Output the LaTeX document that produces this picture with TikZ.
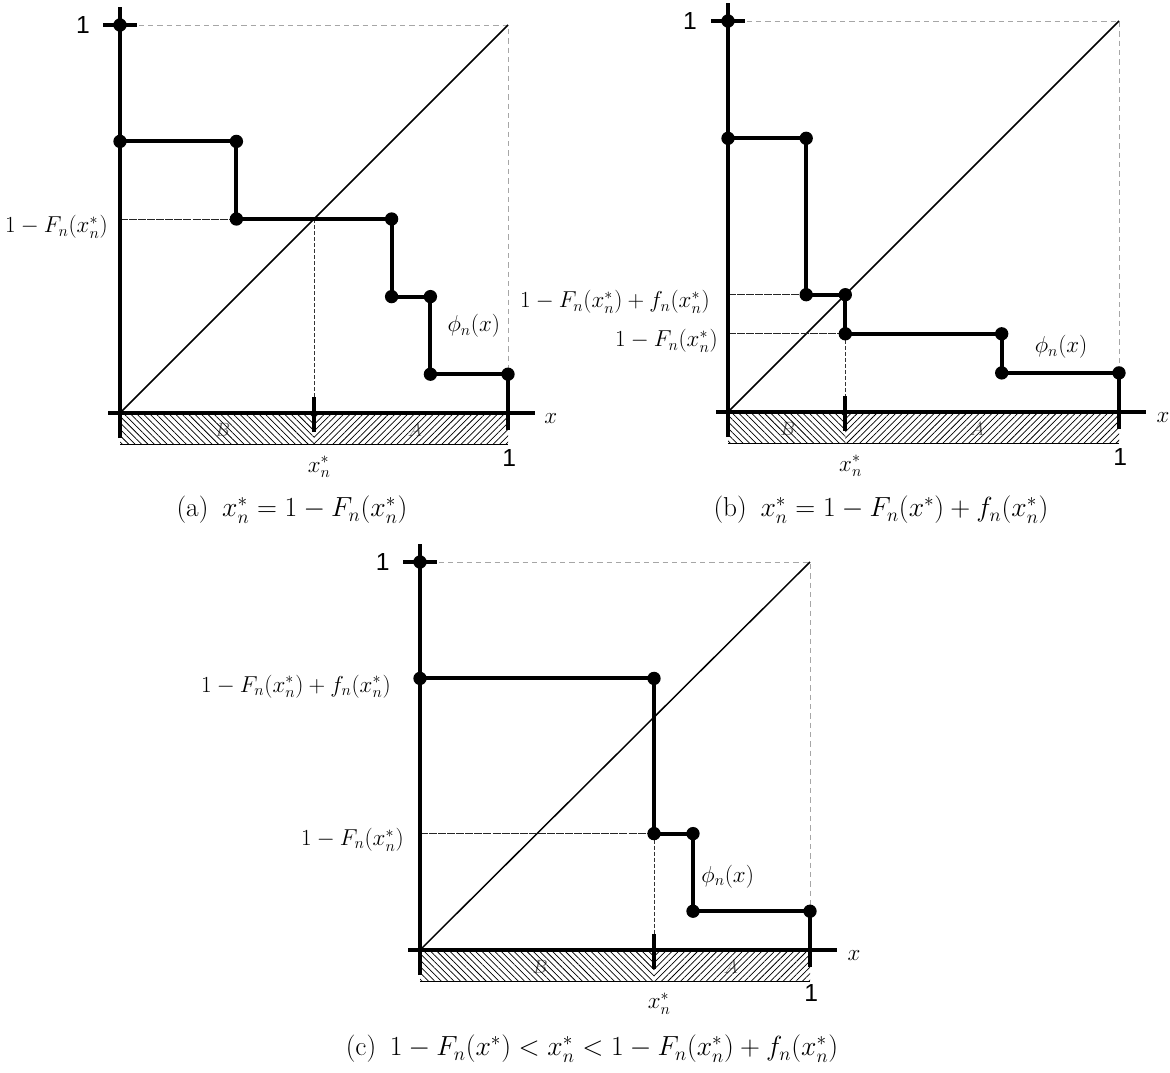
\documentclass[tikz,border=0pt]{standalone}
\usepackage{fontspec}
\newfontfamily\hvfont{Liberation Sans}
\usetikzlibrary{patterns.meta}
\begin{document}
\begin{tikzpicture}[x=0.75pt,y=-0.75pt,
  axisline/.style={line width=3pt},
  stepline/.style={line width=3pt, line join=miter},
  diagline/.style={line width=1.1pt},
  guideline/.style={black!35, line width=0.75pt, dash pattern=on 4pt off 3pt},
  dropline/.style={black!80, line width=0.7pt, dash pattern=on 3pt off 1.5pt},
  levelline/.style={black!85, line width=0.6pt, dash pattern=on 6pt off 0.8pt},
  stepdot/.style={circle, fill=black, inner sep=0pt, minimum size=10pt},
  labtext/.style={font=\fontsize{17}{20}\selectfont, inner sep=0pt},
  onetext/.style={font=\hvfont\fontsize{18.5}{21}\selectfont, inner sep=0pt},
  captext/.style={font=\fontsize{20.5}{24}\selectfont, inner sep=0pt},
  hatchB/.style={pattern={Lines[angle=-45,distance=3.4pt,line width=0.55pt]}},
  hatchA/.style={pattern={Lines[angle=45,distance=3.4pt,line width=0.55pt]}},
  regiontext/.style={text=black!60, font=\fontsize{15}{17}\selectfont, inner sep=0pt},
  hatchedge/.style={line width=0.5pt}
]
\useasboundingbox (0,0) rectangle (1170,1072);

% ---------------- panel (a) ----------------
\begin{scope}[shift={(90pt,-309.75pt)}, x=291pt, y=291pt]
  \draw[guideline] (0,1) -- (1,1) -- (1,0.1);
  \draw[diagline] (0,0) -- (1,1);
  \draw[levelline] (0,0.5) -- (0.3,0.5);
  \draw[dropline] (0.5,0.5) -- (0.5,0);
  \node[regiontext] (aB) at ([yshift=-12.75pt]0.265,0) {$B$};
  \node[regiontext] (aA) at ([yshift=-12.75pt]0.76,0) {$A$};
  \fill[hatchB] (0,0) rectangle ([yshift=-23.25pt]0.5,0);
  \fill[hatchA] (0.5,0) rectangle ([yshift=-23.25pt]1,0);
  \draw[hatchedge] ([yshift=-23.25pt]0,0) -- ([yshift=-23.25pt]1,0);
  \draw[axisline] ([yshift=-18.75pt]0,0) -- ([yshift=13.5pt]0,1);
  \draw[axisline] ([xshift=-9pt]0,0) -- ([xshift=20pt]1,0);
  \draw[axisline] ([xshift=-12.5pt]0,1) -- ([xshift=12.5pt]0,1);
  \draw[axisline] ([yshift=12pt]0.5,0) -- ([yshift=-14pt]0.5,0);
  \draw[stepline] (0,0.7) -| (0.3,0.5) -| (0.7,0.3) -| (0.8,0.1) -| ([yshift=-12.75pt]1,0);
  \foreach \p in {(0,1),(0,0.7),(0.3,0.7),(0.3,0.5),(0.7,0.5),(0.7,0.3),(0.8,0.3),(0.8,0.1),(1,0.1)}
    \node[stepdot] at \p {};
  \node[labtext, anchor=east] (aF) at ([xshift=-9pt,yshift=-6pt]0,0.5) {$1-F_n(x_n^*)$};
  \node[labtext] (axs) at ([xshift=4pt,yshift=-40.5pt]0.5,0) {$x_n^*$};
  \node[onetext] (a1t) at ([xshift=-27.75pt]0,1) {1};
  \node[onetext] (a1b) at ([xshift=1pt,yshift=-33.75pt]1,0) {1};
  \node[labtext] (ax) at ([xshift=32pt,yshift=-4.5pt]1,0) {$x$};
  \node[labtext] (aphi) at (0.912,0.224) {$\phi_n(x)$};
\end{scope}

% ---------------- panel (b) ----------------
\begin{scope}[shift={(546pt,-309pt)}, x=293.25pt, y=293.25pt]
  \draw[guideline] (0,1) -- (1,1) -- (1,0.1);
  \draw[diagline] (0,0) -- (1,1);
  \draw[levelline] (0,0.3) -- (0.2,0.3);
  \draw[levelline] (0,0.2) -- (0.3,0.2);
  \draw[dropline] (0.3,0.2) -- (0.3,0);
  \node[regiontext] (bB) at ([yshift=-12.75pt]0.153,0) {$B$};
  \node[regiontext] (bA) at ([yshift=-12.75pt]0.637,0) {$A$};
  \fill[hatchB] (0,0) rectangle ([yshift=-23.25pt]0.3,0);
  \fill[hatchA] (0.3,0) rectangle ([yshift=-23.25pt]1,0);
  \draw[hatchedge] ([yshift=-23.25pt]0,0) -- ([yshift=-23.25pt]1,0);
  \draw[axisline] ([yshift=-18.75pt]0,0) -- ([yshift=13.5pt]0,1);
  \draw[axisline] ([xshift=-9pt]0,0) -- ([xshift=20pt]1,0);
  \draw[axisline] ([xshift=-12.5pt]0,1) -- ([xshift=12.5pt]0,1);
  \draw[axisline] ([yshift=12pt]0.3,0) -- ([yshift=-14pt]0.3,0);
  \draw[stepline] (0,0.7) -| (0.2,0.3) -| (0.3,0.2) -| (0.7,0.1) -| ([yshift=-12.75pt]1,0);
  \foreach \p in {(0,1),(0,0.7),(0.2,0.7),(0.2,0.3),(0.3,0.3),(0.3,0.2),(0.7,0.2),(0.7,0.1),(1,0.1)}
    \node[stepdot] at \p {};
  \node[labtext, anchor=east] (bFf) at ([xshift=-13.5pt,yshift=-5.5pt]0,0.3) {$1-F_n(x_n^*)+f_n(x_n^*)$};
  \node[labtext, anchor=east] (bF) at ([xshift=-7.5pt,yshift=-5.5pt]0,0.2) {$1-F_n(x_n^*)$};
  \node[labtext] (bxs) at ([xshift=4pt,yshift=-40.5pt]0.3,0) {$x_n^*$};
  \node[onetext] (b1t) at ([xshift=-28.5pt]0,1) {1};
  \node[onetext] (b1b) at ([xshift=1pt,yshift=-33.75pt]1,0) {1};
  \node[labtext] (bx) at ([xshift=33pt,yshift=-4.5pt]1,0) {$x$};
  \node[labtext] (bphi) at (0.852,0.166) {$\phi_n(x)$};
\end{scope}

% ---------------- panel (c) ----------------
\begin{scope}[shift={(315pt,-712.5pt)}, x=292.5pt, y=291pt]
  \draw[guideline] (0,1) -- (1,1) -- (1,0.1);
  \draw[diagline] (0,0) -- (1,1);
  \draw[levelline] (0,0.3) -- (0.6,0.3);
  \draw[dropline] (0.6,0.3) -- (0.6,0);
  \node[regiontext] (cB) at ([yshift=-13pt]0.308,0) {$B$};
  \node[regiontext] (cA) at ([yshift=-13pt]0.797,0) {$A$};
  \fill[hatchB] (0,0) rectangle ([yshift=-23.25pt]0.6,0);
  \fill[hatchA] (0.6,0) rectangle ([yshift=-23.25pt]1,0);
  \draw[hatchedge] ([yshift=-23.25pt]0,0) -- ([yshift=-23.25pt]1,0);
  \draw[axisline] ([yshift=-18.75pt]0,0) -- ([yshift=13.5pt]0,1);
  \draw[axisline] ([xshift=-9pt]0,0) -- ([xshift=20pt]1,0);
  \draw[axisline] ([xshift=-12.5pt]0,1) -- ([xshift=12.5pt]0,1);
  \draw[axisline] ([yshift=12pt]0.6,0) -- ([yshift=-14pt]0.6,0);
  \draw[stepline] (0,0.7) -| (0.6,0.3) -| (0.7,0.1) -| ([yshift=-12.75pt]1,0);
  \foreach \p in {(0,1),(0,0.7),(0.6,0.7),(0.6,0.3),(0.7,0.3),(0.7,0.1),(1,0.1)}
    \node[stepdot] at \p {};
  \node[labtext, anchor=east] (cFf) at ([xshift=-21.75pt,yshift=-6pt]0,0.7) {$1-F_n(x_n^*)+f_n(x_n^*)$};
  \node[labtext, anchor=east] (cF) at ([xshift=-12pt,yshift=-4.5pt]0,0.3) {$1-F_n(x_n^*)$};
  \node[labtext] (cxs) at ([xshift=4pt,yshift=-40pt]0.6,0) {$x_n^*$};
  \node[onetext] (c1t) at ([xshift=-28pt]0,1) {1};
  \node[onetext] (c1b) at ([xshift=1pt,yshift=-32.5pt]1,0) {1};
  \node[labtext] (cx) at ([xshift=33pt,yshift=-4pt]1,0) {$x$};
  \node[labtext] (cphi) at (0.789,0.189) {$\phi_n(x)$};
\end{scope}

% ---------------- captions ----------------
\node[captext] (capa) at (292,510) {(a)\enspace$x_n^* = 1 - F_n(x_n^*)$};
\node[captext] (capb) at (881,510) {(b)\enspace$x_n^* = 1 - F_n(x^*) + f_n(x_n^*)$};
\node[captext] (capc) at (592,1049) {(c)\enspace$1 - F_n(x^*) < x_n^* < 1 - F_n(x_n^*) + f_n(x_n^*)$};
\end{tikzpicture}
\end{document}
